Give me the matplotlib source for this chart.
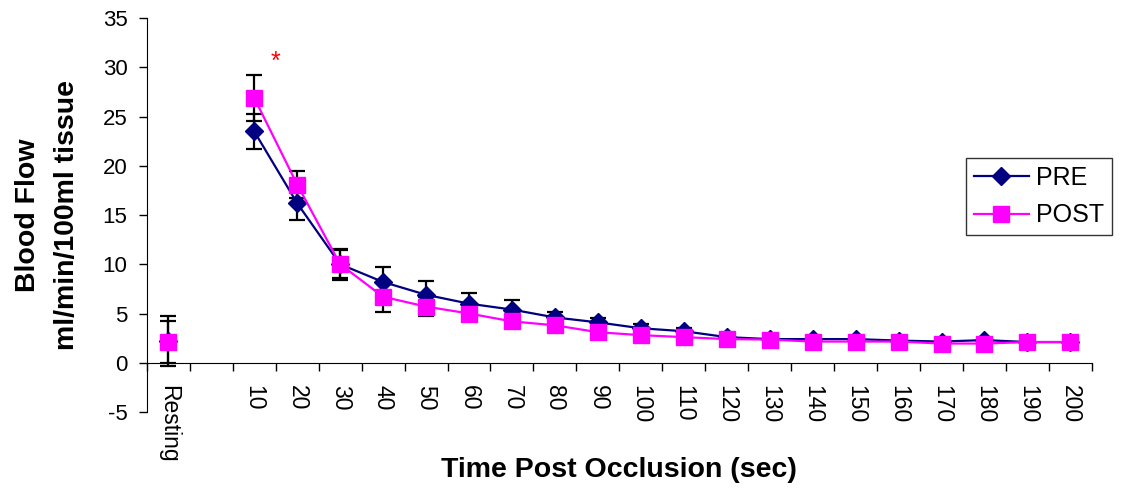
import numpy as np
import matplotlib
matplotlib.use("Agg")
import matplotlib.pyplot as plt

plt.rcParams['font.family'] = ['Liberation Sans', 'DejaVu Sans']
plt.rcParams['axes.unicode_minus'] = False

categories = ["Resting", ""] + [str(t) for t in range(10, 201, 10)]

pre_mean = [2.2, np.nan, 23.5, 16.2, 10.0, 8.2, 6.9, 6.0, 5.4, 4.6, 4.1, 3.5,
            3.2, 2.6, 2.4, 2.4, 2.4, 2.25, 2.15, 2.3, 2.1, 2.1]
pre_err = [2.5, np.nan, 1.8, 1.7, 1.6, 1.5, 1.4, 1.1, 1.0, 0.6, 0.4, 0.45,
           0.35, 0.2, 0.2, 0.2, 0.2, 0.2, 0.2, 0.2, 0.2, 0.2]
post_mean = [2.1, np.nan, 26.9, 18.1, 10.0, 6.7, 5.7, 5.0, 4.2, 3.8, 3.1, 2.8,
             2.6, 2.4, 2.35, 2.15, 2.15, 2.15, 1.95, 1.95, 2.1, 2.1]
post_err = [2.15, np.nan, 2.3, 1.4, 1.4, 1.5, 0.95, 0.8, 0.6, 0.5, 0.4, 0.3,
            0.3, 0.3, 0.2, 0.2, 0.2, 0.2, 0.2, 0.2, 0.2, 0.2]

x = np.arange(len(categories))

fig = plt.figure(figsize=(11.21, 4.91), dpi=100)
ax = fig.add_axes([0.131, 0.161, 0.843, 0.802])

# error bars first, markers on top
ax.errorbar(x, pre_mean, yerr=pre_err, fmt='none', ecolor='black',
            elinewidth=1.6, capsize=5.5, capthick=1.6, zorder=2)
ax.errorbar(x, post_mean, yerr=post_err, fmt='none', ecolor='black',
            elinewidth=1.6, capsize=5.5, capthick=1.6, zorder=2)

ax.plot(x, pre_mean, color='#000080', lw=1.6, marker='D', markersize=9,
        markerfacecolor='#000080', markeredgecolor='#000080', label='PRE', zorder=3)
ax.plot(x, post_mean, color='#FF00FF', lw=1.6, marker='s', markersize=11,
        markerfacecolor='#FF00FF', markeredgecolor='#FF00FF', label='POST', zorder=4)

ax.text(2.5, 30.6, '*', color='red', fontsize=18, ha='center', va='center')

ax.set_xlim(-0.5, len(categories) - 0.5)
ax.set_ylim(-5, 35)
ax.set_yticks(np.arange(-5, 36, 5))

ax.spines['top'].set_visible(False)
ax.spines['right'].set_visible(False)
ax.spines['bottom'].set_position(('data', 0))

ax.set_xticks(x)
ax.set_xticklabels(categories, rotation=-90, fontsize=16.5)
ax.set_xticks(np.arange(-0.5, len(categories), 1), minor=True)
ax.tick_params(axis='x', which='major', length=0, pad=16)
ax.tick_params(axis='x', which='minor', length=6, width=1, direction='out')
ax.tick_params(axis='y', labelsize=16, length=6, width=1, pad=8)

ax.set_xlabel('Time Post Occlusion (sec)', fontsize=20.5, fontweight='bold')
ax.xaxis.set_label_coords(0.5, -0.115)
ax.set_ylabel('Blood Flow\nml/min/100ml tissue', fontsize=20.5, fontweight='bold',
              linespacing=1.65)
ax.yaxis.set_label_coords(-0.071, 0.5)

leg = ax.legend(loc='upper left', bbox_to_anchor=(0.862, 0.678),
                bbox_transform=fig.transFigure, fontsize=18, frameon=True,
                fancybox=False, edgecolor='black', handlelength=2.2,
                handletextpad=0.3, borderpad=0.3, labelspacing=0.55,
                borderaxespad=0)
leg.get_frame().set_linewidth(1)

fig.savefig('out.png', dpi=100)
